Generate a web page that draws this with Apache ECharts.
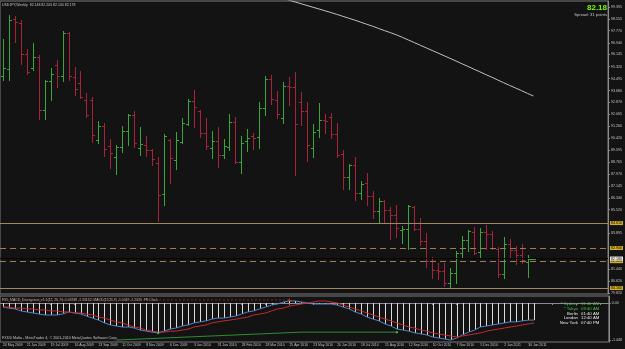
<!DOCTYPE html>
<html>
<head>
<meta charset="utf-8">
<title>USDJPY,Weekly</title>
<script src="https://cdn.jsdelivr.net/npm/echarts@6.0.0/dist/echarts.min.js"></script>
<style>
	html, body { margin: 0; padding: 0; background: #131313; }
	#chart { width: 625px; height: 349px; }
</style>
</head>
<body>
<div id="chart"></div>
<script>
	/* 时间刻度 (每4周) */
	var dateLabels = ['24 May 2009', '21 Jun 2009', '19 Jul 2009', '16 Aug 2009', '13 Sep 2009', '11 Oct 2009',
		'8 Nov 2009', '6 Dec 2009', '3 Jan 2010', '31 Jan 2010', '28 Feb 2010', '28 Mar 2010', '25 Apr 2010',
		'23 May 2010', '20 Jun 2010', '18 Jul 2010', '15 Aug 2010', '12 Sep 2010', '10 Oct 2010', '7 Nov 2010',
		'5 Dec 2010', '2 Jan 2011', '30 Jan 2011'];
	var weekCount = 102; // 含右侧空白

	/* 周线 OHLC */
	var opens = [94.70, 95.15, 98.57, 98.30, 96.20, 95.20, 96.00, 92.35, 94.30, 95.40,
		94.70, 97.60, 94.60, 94.20, 93.03, 93.03, 90.30, 91.25, 89.90, 89.10,
		89.80, 90.90, 92.00, 89.75, 89.95, 89.61, 88.72, 86.60, 90.30, 88.92,
		90.16, 91.39, 92.96, 92.28, 90.75, 89.75, 90.22, 89.27, 89.81, 91.52,
		88.79, 90.22, 90.55, 90.50, 92.48, 94.47, 93.03, 91.80, 93.99, 93.92,
		92.90, 92.28, 89.75, 90.97, 91.66, 91.87, 90.70, 89.34, 87.76, 88.58,
		86.67, 87.35, 86.46, 85.43, 86.12, 85.50, 85.16, 84.13, 84.20, 85.70,
		84.20, 83.38, 82.00, 81.39, 81.32, 80.51, 81.19, 82.56, 83.45, 84.00,
		82.63, 83.99, 83.86, 82.84, 81.12, 83.17, 82.76, 82.42, 81.94, 82.148];
	var highs = [97.20, 98.85, 98.80, 98.50, 96.50, 96.90, 96.10, 94.40, 95.20, 95.80,
		97.75, 97.70, 95.30, 95.00, 93.50, 93.24, 91.60, 91.46, 90.36, 89.95,
		91.25, 92.07, 92.28, 91.18, 90.57, 89.68, 89.13, 90.70, 90.36, 90.84,
		91.80, 93.10, 93.71, 92.35, 91.80, 90.90, 91.18, 90.36, 92.07, 91.87,
		90.57, 91.04, 90.77, 92.89, 94.67, 94.74, 93.65, 94.26, 94.60, 94.95,
		93.58, 92.89, 91.39, 92.82, 92.07, 92.14, 91.46, 89.60, 88.65, 89.13,
		87.49, 88.03, 86.80, 86.32, 86.19, 85.71, 85.85, 84.41, 85.85, 85.75,
		84.96, 83.93, 82.28, 81.87, 81.87, 81.53, 82.70, 83.72, 84.13, 84.34,
		84.27, 84.48, 84.06, 82.97, 83.65, 83.52, 83.04, 83.17, 82.42, 82.203];
	var lows = [94.40, 94.40, 97.00, 95.50, 94.80, 95.10, 91.70, 91.70, 93.00, 93.90,
		94.30, 94.40, 93.40, 93.20, 91.90, 90.16, 90.10, 89.20, 88.40, 88.00,
		89.50, 89.95, 89.81, 89.30, 89.20, 88.58, 84.75, 85.85, 87.35, 88.31,
		90.10, 91.30, 91.18, 90.50, 89.70, 89.06, 88.45, 89.06, 89.61, 88.72,
		88.04, 89.54, 89.68, 89.75, 92.00, 92.76, 91.80, 91.46, 92.69, 87.90,
		91.32, 88.86, 89.13, 90.50, 90.77, 90.43, 89.13, 86.94, 86.94, 86.19,
		86.26, 85.85, 84.95, 84.61, 84.68, 83.52, 83.65, 83.24, 82.84, 84.13,
		83.10, 81.60, 80.85, 80.78, 80.30, 80.23, 80.51, 82.28, 82.70, 82.49,
		82.28, 82.84, 82.84, 80.92, 80.85, 82.28, 81.80, 81.87, 80.92, 82.140];
	var closes = [95.20, 98.50, 98.37, 96.20, 94.95, 96.00, 92.35, 94.33, 94.80, 94.70,
		97.60, 94.70, 93.80, 93.25, 92.00, 90.64, 91.25, 89.70, 89.40, 89.80,
		90.90, 92.00, 90.10, 90.05, 89.61, 88.99, 86.53, 90.60, 89.06, 90.29,
		91.46, 92.96, 92.55, 90.77, 89.90, 90.22, 89.27, 89.88, 91.52, 88.79,
		90.10, 90.40, 90.45, 92.48, 94.47, 93.10, 92.07, 93.99, 93.92, 91.39,
		92.28, 89.95, 90.84, 91.66, 91.59, 90.70, 89.27, 87.76, 88.58, 86.67,
		87.28, 86.46, 85.43, 86.12, 85.50, 85.16, 84.27, 84.20, 85.77, 84.20,
		83.38, 82.00, 81.39, 81.32, 80.51, 81.19, 82.56, 83.45, 84.06, 82.56,
		83.99, 83.86, 82.90, 81.12, 83.17, 82.76, 82.42, 82.08, 82.18, 82.178];

	/* 均线 [周序号, 值] */
	var maPoints = [[47, 99.98], [48, 99.86], [49, 99.74], [50, 99.62], [51, 99.50], [52, 99.38], [53, 99.26],
		[54, 99.14], [55, 99.02], [56, 98.89], [57, 98.76], [58, 98.63], [59, 98.50], [60, 98.36], [61, 98.22],
		[62, 98.08], [63, 97.93], [64, 97.78], [65, 97.64], [66, 97.49], [67, 97.32], [68, 97.14], [69, 96.96],
		[70, 96.78], [71, 96.60], [72, 96.42], [73, 96.24], [74, 96.06], [75, 95.88], [76, 95.70], [77, 95.51],
		[78, 95.33], [79, 95.14], [80, 94.96], [81, 94.77], [82, 94.59], [83, 94.40], [84, 94.21], [85, 94.03],
		[86, 93.85], [87, 93.67], [88, 93.48], [89, 93.30]];

	/* 右侧价格刻度 */
	var priceTicks = [99.395, 98.555, 97.770, 96.940, 96.145, 95.320, 94.495, 93.680, 92.870, 92.065, 91.260,
		90.420, 89.595, 88.765, 87.970, 87.145, 86.340, 85.520, 83.895, 81.440, 80.620, 79.820];
	var solidLevels = [84.610, 80.160];
	var dashedLevels = [82.900, 82.000];
	var bidPrice = 82.18;

	/* MACD */
	var macdMain = [-0.16, -0.20, -0.23, -0.31, -0.35, -0.39, -0.43, -0.47, -0.47, -0.47,
		-0.43, -0.35, -0.39, -0.43, -0.51, -0.59, -0.67, -0.78, -0.86, -0.90,
		-0.94, -0.94, -0.98, -1.06, -1.10, -1.14, -1.17, -1.10, -1.02, -0.98,
		-0.90, -0.86, -0.78, -0.74, -0.70, -0.63, -0.59, -0.59, -0.55, -0.51,
		-0.43, -0.35, -0.31, -0.23, -0.16, -0.08, -0.04, 0.04, 0.08, 0.08,
		0.04, 0.00, -0.04, -0.04, -0.04, -0.04, -0.08, -0.16, -0.23, -0.35,
		-0.43, -0.55, -0.63, -0.70, -0.82, -0.90, -1.02, -1.06, -1.10, -1.17,
		-1.21, -1.25, -1.33, -1.37, -1.41, -1.448, -1.37, -1.25, -1.14, -1.06,
		-0.94, -0.90, -0.86, -0.82, -0.78, -0.74, -0.74, -0.70, -0.67, -0.67];
	var macdSignal = [-0.16, -0.16, -0.20, -0.20, -0.23, -0.23, -0.27, -0.27, -0.31, -0.31,
		-0.35, -0.35, -0.39, -0.39, -0.43, -0.47, -0.55, -0.59, -0.67, -0.74,
		-0.78, -0.86, -0.94, -0.98, -1.06, -1.10, -1.14, -1.14, -1.10, -1.10,
		-1.06, -1.02, -0.94, -0.90, -0.86, -0.78, -0.74, -0.70, -0.67, -0.63,
		-0.59, -0.55, -0.47, -0.43, -0.39, -0.31, -0.23, -0.20, -0.12, -0.08,
		-0.04, 0.00, 0.04, 0.08, 0.08, 0.04, 0.00, -0.08, -0.16, -0.23,
		-0.31, -0.39, -0.47, -0.55, -0.63, -0.70, -0.78, -0.86, -0.94, -0.98,
		-1.06, -1.10, -1.17, -1.21, -1.25, -1.29, -1.33, -1.29, -1.25, -1.21,
		-1.17, -1.10, -1.06, -1.02, -0.98, -0.94, -0.90, -0.86, -0.82, -0.78];
	var greenTrend = [[19, -1.45], [50, -1.14], [66, -1.14]];
	var redTrend = [[0, 0.12], [48, 0.12]];
	var redArrow = [[48, 0.20]];
	var greenMarks = [[26, -1.17], [66, -1.14]];
	var macdTicks = [0, -1.448];

	var upColor = '#3aa53a';
	var downColor = '#a8223a';
	var textFont = 'Liberation Sans';

	var weeks = [];
	for (var i = 0; i < weekCount; i++) {
		weeks.push(i);
	}
	var ohlcData = [];
	for (var j = 0; j < opens.length; j++) {
		ohlcData.push([j, opens[j], highs[j], lows[j], closes[j]]);
	}
	var histData = [];
	for (var k = 0; k < macdMain.length; k++) {
		histData.push([k, macdMain[k]]);
	}

	// 美国线 (竖线 + 左开右收)
	function renderBar(params, api) {
		var idx = api.value(0);
		var o = api.value(1), c = api.value(4);
		var ph = api.coord([idx, api.value(2)]);
		var pl = api.coord([idx, api.value(3)]);
		var po = api.coord([idx, o]);
		var pc = api.coord([idx, c]);
		var n = Math.round(ph[0]);
		var x = n + 0.5;
		var st = { stroke: c >= o ? upColor : downColor, lineWidth: 1 };
		var yo = Math.round(po[1]) + 0.5;
		var yc = Math.round(pc[1]) + 0.5;
		return {
			type: 'group',
			children: [
				{ type: 'line', shape: { x1: x, y1: Math.round(ph[1]), x2: x, y2: Math.round(pl[1]) + 1 }, style: st },
				{ type: 'line', shape: { x1: n - 2, y1: yo, x2: n + 1, y2: yo }, style: st },
				{ type: 'line', shape: { x1: n, y1: yc, x2: n + 3, y2: yc }, style: st }
			]
		};
	}

	// 柱状图 (1px 竖线)
	function renderHist(params, api) {
		var p0 = api.coord([api.value(0), 0]);
		var p1 = api.coord([api.value(0), api.value(1)]);
		var x = Math.round(p0[0]) + 0.5;
		return {
			type: 'line',
			shape: { x1: x, y1: Math.round(p0[1]), x2: x, y2: Math.round(p1[1]) },
			style: { stroke: '#dcdcdc', lineWidth: 1 }
		};
	}

	var levelLabel = {
		show: true,
		position: 'end',
		distance: 2,
		formatter: function (p) { return p.value.toFixed(3); },
		fontSize: 3.6,
		fontFamily: textFont,
		color: '#000',
		backgroundColor: '#d6ae24',
		padding: [0, 1, 0, 1]
	};
	var markData = [];
	solidLevels.forEach(function (v) {
		markData.push({ yAxis: v, lineStyle: { color: '#a08662', type: 'solid', width: 1 }, label: levelLabel });
	});
	dashedLevels.forEach(function (v) {
		markData.push({ yAxis: v, lineStyle: { color: '#9a7e56', type: [6, 4], width: 1 }, label: levelLabel });
	});
	markData.push({
		yAxis: bidPrice,
		lineStyle: { color: '#050505', type: 'solid', width: 1 },
		label: Object.assign({}, levelLabel, { backgroundColor: '#f0f0f0' })
	});

	function txt(text, x, y, color, size, align, weight) {
		return {
			type: 'text',
			x: x,
			y: y,
			silent: true,
			style: {
				text: text,
				fill: color,
				font: (weight || 'normal') + ' ' + size + 'px "' + textFont + '"',
				textAlign: align || 'left',
				textVerticalAlign: 'middle'
			}
		};
	}

	var myChart = echarts.init(document.getElementById('chart'));
	myChart.setOption({
		backgroundColor: '#131313',
		animation: false,
		grid: [
			{ left: -2, top: 1, width: 612, height: 293, show: true, borderColor: '#7a7a7a', borderWidth: 1 },
			{ left: -2, top: 296, width: 612, height: 46, show: true, borderColor: '#7a7a7a', borderWidth: 1 }
		],
		xAxis: [
			{
				type: 'category', gridIndex: 0, data: weeks, boundaryGap: true,
				axisLine: { show: false }, axisTick: { show: false }, axisLabel: { show: false }, splitLine: { show: false }
			},
			{
				type: 'category', gridIndex: 1, data: weeks, boundaryGap: true,
				axisLine: { show: true, lineStyle: { color: '#8c8c8c' } },
				axisTick: { show: true, interval: 3, alignWithLabel: true, length: 2, lineStyle: { color: '#8c8c8c' } },
				axisLabel: {
					interval: 3,
					align: 'left',
					margin: 1.5,
					fontSize: 3.4,
					fontFamily: textFont,
					color: '#c4c4c4',
					formatter: function (val, idx) { return dateLabels[idx / 4] || ''; }
				},
				splitLine: { show: false }
			}
		],
		yAxis: [
			{
				type: 'value', gridIndex: 0, position: 'right', min: 79.753, max: 99.806,
				axisLine: { show: true, lineStyle: { color: '#8c8c8c' } },
				axisTick: { show: true, length: 2, customValues: priceTicks, lineStyle: { color: '#8c8c8c' } },
				axisLabel: {
					customValues: priceTicks, margin: 3, fontSize: 3.6, fontFamily: textFont, color: '#c4c4c4',
					formatter: function (v) { return v.toFixed(3); }
				},
				splitLine: { show: false }
			},
			{
				type: 'value', gridIndex: 1, position: 'right', min: -1.526, max: 0.274,
				axisLine: { show: true, lineStyle: { color: '#8c8c8c' } },
				axisTick: { show: true, length: 2, customValues: macdTicks, lineStyle: { color: '#8c8c8c' } },
				axisLabel: {
					customValues: macdTicks, margin: 3, fontSize: 3.6, fontFamily: textFont, color: '#c4c4c4',
					formatter: function (v) { return v === 0 ? '0.00' : v.toFixed(3); }
				},
				splitLine: { show: false }
			}
		],
		series: [
			{
				name: 'ma', type: 'line', xAxisIndex: 0, yAxisIndex: 0, data: maPoints,
				symbol: 'none', z: 1, lineStyle: { color: '#c0c0c0', width: 1 },
				markLine: { silent: true, symbol: 'none', animation: false, data: markData }
			},
			{
				name: 'USDJPY', type: 'custom', xAxisIndex: 0, yAxisIndex: 0, z: 3,
				renderItem: renderBar, data: ohlcData, clip: true
			},
			{
				name: 'hist', type: 'custom', xAxisIndex: 1, yAxisIndex: 1, z: 2,
				renderItem: renderHist, data: histData, clip: true
			},
			{
				name: 'macd', type: 'line', xAxisIndex: 1, yAxisIndex: 1, data: macdMain,
				symbol: 'none', z: 4, lineStyle: { color: '#4f82c4', width: 1 }
			},
			{
				name: 'signal', type: 'line', xAxisIndex: 1, yAxisIndex: 1, data: macdSignal,
				symbol: 'none', z: 4, lineStyle: { color: '#c42a2a', width: 1 }
			},
			{
				name: 'bullDiv', type: 'line', xAxisIndex: 1, yAxisIndex: 1, data: greenTrend,
				symbol: 'none', z: 3, lineStyle: { color: '#2f8f2f', width: 1 }
			},
			{
				name: 'bearDiv', type: 'line', xAxisIndex: 1, yAxisIndex: 1, data: redTrend,
				symbol: 'none', z: 3, lineStyle: { color: '#8a2020', width: 1, type: [2, 2] }
			},
			{
				name: 'sell', type: 'scatter', xAxisIndex: 1, yAxisIndex: 1, data: redArrow,
				symbol: 'arrow', symbolSize: [3, 4], z: 5, itemStyle: { color: '#e03030' }
			},
			{
				name: 'buy', type: 'scatter', xAxisIndex: 1, yAxisIndex: 1, data: greenMarks,
				symbol: 'diamond', symbolSize: 3, z: 5, itemStyle: { color: '#50d050' }
			}
		],
		graphic: [
			txt('USDJPY,Weekly  82.148 82.203 82.140 82.178', 2, 5, '#c4c4c4', 3.5),
			txt('82.18', 607, 7.5, '#7cfc00', 8, 'right', 'bold'),
			txt('Spread: 31 points', 607, 14.5, '#c4c4c4', 4.2, 'right'),
			txt('FX5_MACD_Divergence_v1.1(12, 26, 9) -1.03188 -1.30162  MACD(12,26,9) -1.0019 -1.2036  FN Clock', 2, 300, '#c4c4c4', 3.4),
			txt('FXDD Malta - MetaTrader 4, \u00a9 2001-2010 MetaQuotes Software Corp.', 2, 338, '#c4c4c4', 3.7),
			txt('* Sydney', 578, 304, '#40c040', 4.3, 'right'),
			txt('11:40 AM', 581, 304, '#40c040', 4.3),
			txt('* Tokyo', 578, 309, '#40c040', 4.3, 'right'),
			txt('09:40 AM', 581, 309, '#40c040', 4.3),
			txt('Berlin', 578, 313.5, '#e8e8e8', 4.3, 'right'),
			txt('01:40 AM', 581, 313.5, '#e8e8e8', 4.3),
			txt('London', 578, 318, '#e8e8e8', 4.3, 'right'),
			txt('12:40 AM', 581, 318, '#e8e8e8', 4.3),
			txt('New York', 578, 323, '#e8e8e8', 4.3, 'right'),
			txt('07:40 PM', 581, 323, '#e8e8e8', 4.3)
		]
	});
</script>
</body>
</html>
